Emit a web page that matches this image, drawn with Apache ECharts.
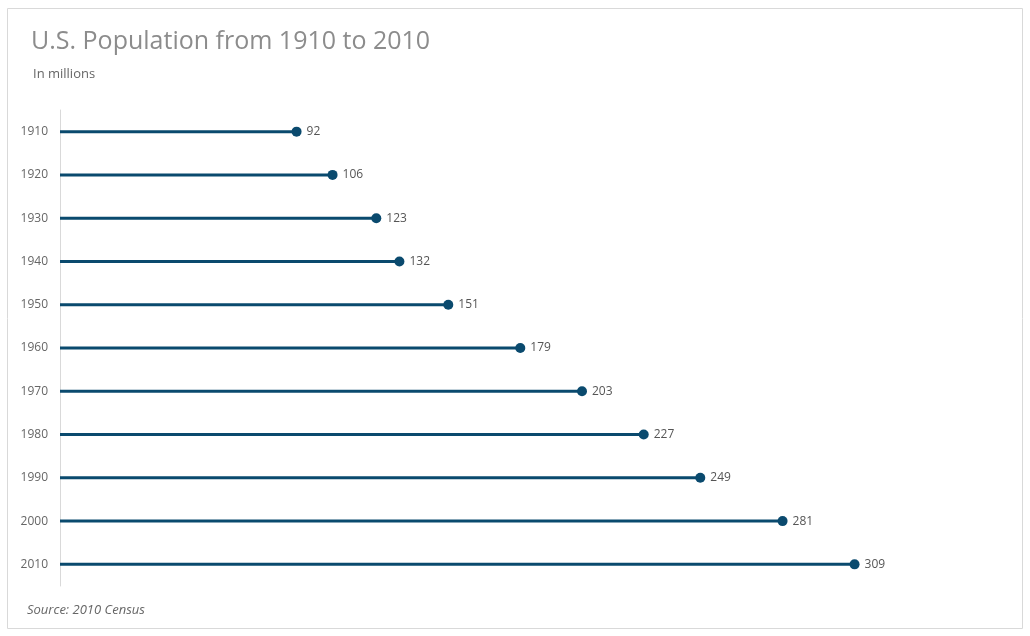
<!DOCTYPE html>
<html><head><meta charset="utf-8">
<script src="https://cdn.jsdelivr.net/npm/echarts@6/dist/echarts.min.js"></script>
<style>html,body{margin:0;padding:0;background:#fff}#c{width:1030px;height:636px}</style>
</head><body><div id="c"></div>
<script>
const years = ['1910','1920','1930','1940','1950','1960','1970','1980','1990','2000','2010'];
const population = [92,106,123,132,151,179,203,227,249,281,309];
const titleText = 'U.S. Population from 1910 to 2010';
const subtitleText = 'In millions';
const sourceText = 'Source: 2010 Census';
const color = '#0a4a6e';
const font = '"Open Sans", "DejaVu Sans", sans-serif';
const chart = echarts.init(document.getElementById('c'));
chart.setOption({
  animation: false,
  graphic: [
    {type:'rect', shape:{x:7.5,y:8.5,width:1015,height:620}, style:{fill:'none',stroke:'#d9d9d9',lineWidth:1}, silent:true},
    {type:'text', left:31, top:29, style:{text:titleText, fill:'#8c8c8c', font:'25px ' + font}},
    {type:'text', left:33, top:68, style:{text:subtitleText, fill:'#666', font:'13px ' + font}},
    {type:'text', left:27, top:604, style:{text:sourceText, fill:'#666', font:'italic 13px ' + font}}
  ],
  grid: {left:60, top:110, width:900, height:476, containLabel:false},
  xAxis: {type:'value', min:0, max:350, show:false},
  yAxis: {type:'category', data:years, inverse:true,
    axisLine:{show:true, lineStyle:{color:'#d9d9d9'}}, axisTick:{show:false},
    axisLabel:{color:'#666', fontSize:12, fontFamily:font, margin:12}},
  series: [
    {type:'bar', data:population, barWidth:3, itemStyle:{color:color}, silent:true},
    {type:'scatter', data:population, symbol:'circle', symbolSize:10, itemStyle:{color:color, opacity:1},
      label:{show:true, position:'right', distance:5, color:'#555', fontSize:12, fontFamily:font}}
  ]
});
</script></body></html>
